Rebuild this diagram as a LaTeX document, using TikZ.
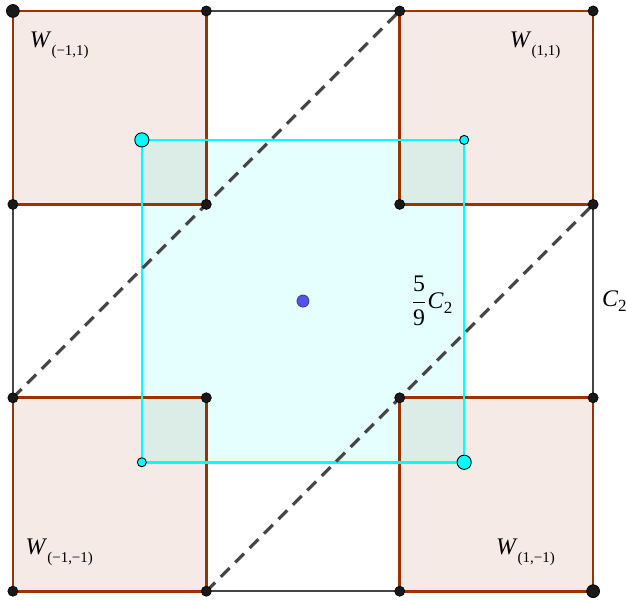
\documentclass[tikz,border=0pt]{standalone}
\usepackage{fontspec}
\setmainfont{Liberation Serif}
\usepackage{tikz}
\usetikzlibrary{calc}

\definecolor{wbrown}{RGB}{153,51,0}
\definecolor{edgegray}{RGB}{70,70,70}
\definecolor{dotblue}{RGB}{80,80,255}
\definecolor{cyanline}{RGB}{0,255,255}
\tikzset{
  wfill/.style={fill=wbrown, fill opacity=0.1},
  cfill/.style={fill=cyanline, fill opacity=0.1},
  wedge/.style={draw=wbrown, line width=1.2pt},
  cedge/.style={draw=cyanline, line width=1.1pt},
  graybar/.style={draw=edgegray, line width=1.1pt},
  diag/.style={draw=edgegray, line width=1.4pt, dash pattern=on 5.5pt off 3.5pt},
  bdot/.style={fill=black!90, draw=black, line width=0.3pt},
  cdot/.style={fill=cyanline, draw=black, line width=0.4pt},
  lab/.style={font=\fontsize{10.5}{12}\selectfont, inner sep=1pt},
}
\newcommand{\wlab}[1]{\textit{W}\raisebox{-3.5pt}{\fontsize{6.6}{7}\selectfont(#1)}}
\newcommand{\ctwo}{\textit{C}\raisebox{-2pt}{\fontsize{7.5}{8}\selectfont 2}}

\begin{document}
\begin{tikzpicture}
  \useasboundingbox (-0.2,-0.14) rectangle (9.51,9.17);
  \foreach \i in {0,...,3} { \foreach \j in {0,...,3} { \coordinate (p\i\j) at (3*\i,3*\j); } }
  \coordinate (o) at (4.5,4.5);
  \coordinate (c00) at (2,2); \coordinate (c01) at (2,7); \coordinate (c10) at (7,2); \coordinate (c11) at (7,7);

  % fills
  \fill [wfill] (p00) rectangle (p11); \fill [wfill] (p20) rectangle (p31);
  \fill [wfill] (p02) rectangle (p13); \fill [wfill] (p22) rectangle (p33);
  \fill [cfill] (c00) rectangle (c11);

  % edges of C_2 and the W squares
  \draw [graybar] (p10) -- (p20); \draw [graybar] (p01) -- (p02);
  \draw [graybar] (p31) -- (p32); \draw [graybar] (p13) -- (p23);
  \draw [wedge] (p00) rectangle (p11); \draw [wedge] (p20) rectangle (p31);
  \draw [wedge] (p02) rectangle (p13); \draw [wedge] (p22) rectangle (p33);
  \draw [cedge] (c00) rectangle (c11);
  \draw [diag] (p01) -- (p23); \draw [diag] (p10) -- (p32);

  % points
  \foreach \i in {0,...,3} { \foreach \j in {0,...,3} { \draw [bdot] (p\i\j) circle (0.078); } }
  \draw [bdot] (p03) circle (0.1); \draw [bdot] (p30) circle (0.1);
  \draw [cdot] (c01) circle (0.11); \draw [cdot] (c10) circle (0.11);
  \draw [cdot] (c00) circle (0.07); \draw [cdot] (c11) circle (0.07);
  \draw [fill=dotblue, draw=black!70, line width=0.4pt] (o) circle (0.093);

  % labels
  \node [lab] (wmp) at (0.72,8.47) {\wlab{−1,1}}; \node [lab] (wpp) at (8.1,8.47) {\wlab{1,1}};
  \node [lab] (wmm) at (0.72,0.6) {\wlab{−1,−1}}; \node [lab] (wpm) at (7.95,0.6) {\wlab{1,−1}};
  \node [lab] (cfrac) at (6.49,4.5) {$\displaystyle\frac{\mbox{5}}{\mbox{9}}$\ctwo};
  \node [lab] (cbig) at (9.33,4.5) {\ctwo};
\end{tikzpicture}
\end{document}
